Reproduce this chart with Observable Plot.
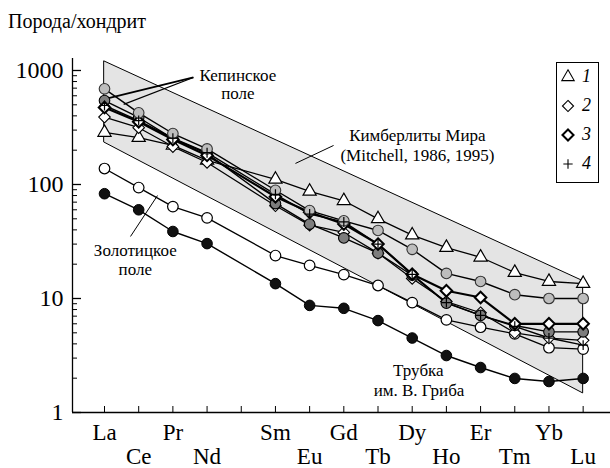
<!DOCTYPE html>
<html><head><meta charset="utf-8">
<script src="https://cdn.jsdelivr.net/npm/d3@7"></script>
<script src="https://cdn.jsdelivr.net/npm/@observablehq/plot@0.6"></script>
<style>
body{margin:0;background:#fff;font-family:"Liberation Serif","Times New Roman",Times,"DejaVu Serif",serif;color:#000;}
#wrap{position:relative;width:610px;height:468px;overflow:hidden;}
#title{height:40px;line-height:42px;font-size:20px;padding-left:8px;}
#legend{position:absolute;left:556px;top:62px;width:41px;height:119px;border:1px solid #000;background:#fff;}
#legend .row{position:absolute;left:0;width:41px;height:20px;}
#legend .row svg{position:absolute;left:2px;top:0;}
#legend .row span{position:absolute;left:25px;top:-1px;font-style:italic;font-size:18px;line-height:20px;}
svg text{font-family:"Liberation Serif","Times New Roman",Times,"DejaVu Serif",serif;}
</style></head><body>
<div id="wrap">
<div id="title">Порода/хондрит</div>
<div id="chart"></div>
<div id="legend"></div>
</div>
<script>
// Element order (Pm position 4 is omitted in the data)
const elements = ["La","Ce","Pr","Nd","Sm","Eu","Gd","Tb","Dy","Ho","Er","Tm","Yb","Lu"];
const positions = [0,1,2,3,5,6,7,8,9,10,11,12,13,14];
const row1 = ["La","Pr","Sm","Gd","Dy","Er","Yb"];
const row2 = ["Ce","Nd","Eu","Tb","Ho","Tm","Lu"];

// series values (rock / chondrite)
const s1Triangle   = [286,258,220,163,111,87,72,50,36,28,23,16.9,14.1,13.5];
const s2Diamond    = [390,315,215,156,65,44,38,25,15,9.4,7.5,5.0,4.5,4.3];
const s3BoldDiam   = [473,355,248,180,78,57,45,30,16.3,11.7,10.2,6.0,6.0,6.0];
const s4Plus       = [493,364,255,190,82,55,47,30,16.3,9.2,7.1,5.7,4.5,3.9];
const kepinoLight  = [690,425,280,205,89,59,48,39.5,27,16.6,14.1,10.8,10,10];
const kepinoDark   = [545,387,253,187,68,45,34,25,16,9.1,7.1,5.8,5.1,5.1];
const zolotitsa    = [138,94,64,51,23.8,19.5,16.2,13,9.2,6.5,5.6,4.9,3.7,3.6];
const gribaPipe    = [83,60,38.7,30.3,13.5,8.7,8.2,6.4,4.5,3.16,2.48,1.99,1.87,1.99];

// kimberlite field (Mitchell): La and Lu bounds
const fieldPos   = [0,14];
const fieldLow   = [233,1.47];
const fieldHigh  = [1200,14.2];

// annotations (x = element position, y = value)
const annText = [
  {x:3.9, y:904, t:"Кепинское"},
  {x:3.9, y:629, t:"поле"},
  {x:9.15, y:269, t:"Кимберлиты Мира"},
  {x:9.15, y:180, t:"(Mitchell, 1986, 1995)"},
  {x:0.9, y:26.4, t:"Золотицкое"},
  {x:0.9, y:18, t:"поле"},
  {x:9.18, y:2.34, t:"Трубка"},
  {x:9.2, y:1.56, t:"им. В. Гриба"}
];
const annLines = [
  {x1:2.6, y1:868, x2:0.09, y2:568, w:1.8},
  {x1:2.6, y1:868, x2:0.56, y2:504, w:1.2},
  {x1:6.7, y1:220, x2:5.585, y2:153, w:1},
  {x1:0.76, y1:35, x2:1.55, y2:80, w:1}
];

const xDomain = [-0.936, 14.8];
const yDomain = [1, 1274];
const majorY = [1,10,100,1000];
const minorY = [];
for (const d of [1,10,100]) for (let k=2;k<=9;k++) minorY.push(d*k);

const mk = (vals) => positions.map((p,i)=>({x:p, v:vals[i]}));
const field = fieldPos.map((p,i)=>({x:p, lo:fieldLow[i], hi:fieldHigh[i]}));
const labelOf = new Map(positions.map((p,i)=>[p, elements[i]]));
const posOf = new Map(elements.map((e,i)=>[e, positions[i]]));

const serif = "'Liberation Serif','Times New Roman',Times,'DejaVu Serif',serif";
const lineOpts = (w) => ({x:"x", y:"v", stroke:"#000", strokeWidth:w});

const plot = Plot.plot({
  width:610, height:428,
  marginLeft:72, marginRight:0, marginTop:18, marginBottom:56,
  x:{type:"linear", domain:xDomain},
  y:{type:"log", domain:yDomain},
  style:{fontFamily:serif, fontSize:"22px", color:"#000", background:"#fff", overflow:"visible"},
  marks:[
    Plot.areaY(field, {x:"x", y1:"lo", y2:"hi", fill:"#e4e4e4", stroke:"#000", strokeWidth:1}),
    Plot.ruleX([xDomain[0]], {stroke:"#000", strokeWidth:1.3}),
    Plot.ruleY([yDomain[0]], {stroke:"#000", strokeWidth:1.3}),
    Plot.axisY({ticks:majorY, tickSize:-9, tickPadding:18, tickFormat:d=>String(d), fontSize:24, strokeWidth:1.3}),
    Plot.axisY({ticks:minorY, tickSize:-5, tickFormat:()=>"", strokeWidth:1}),
    Plot.axisX({ticks:d3.range(0,15), tickSize:-6, tickFormat:()=>"", strokeWidth:1}),
    Plot.axisX({ticks:row1.map(e=>posOf.get(e)), tickSize:0, tickPadding:11, tickFormat:p=>labelOf.get(p), fontSize:23}),
    Plot.axisX({ticks:row2.map(e=>posOf.get(e)), tickSize:0, tickPadding:35, tickFormat:p=>labelOf.get(p), fontSize:23}),

    Plot.link(annLines, {x1:"x1", y1:"y1", x2:"x2", y2:"y2", stroke:"#000", strokeWidth:"w"}),
    Plot.text(annText, {x:"x", y:"y", text:"t", fontSize:17, fill:"#000"}),

    Plot.line(mk(gribaPipe), lineOpts(1.4)),
    Plot.line(mk(zolotitsa), lineOpts(1.3)),
    Plot.line(mk(s1Triangle), lineOpts(1.3)),
    Plot.line(mk(kepinoLight), lineOpts(1.4)),
    Plot.line(mk(kepinoDark), lineOpts(1.4)),
    Plot.line(mk(s2Diamond), lineOpts(1.2)),
    Plot.line(mk(s4Plus), lineOpts(1.4)),
    Plot.line(mk(s3BoldDiam), lineOpts(2.2)),

    Plot.dot(mk(gribaPipe), {x:"x", y:"v", r:5.3, fill:"#111", stroke:"#000", strokeWidth:1}),
    Plot.dot(mk(zolotitsa), {x:"x", y:"v", r:5.3, fill:"#fff", stroke:"#000", strokeWidth:1.2}),
    Plot.dot(mk(s1Triangle), {x:"x", y:"v", symbol:"triangle", r:4.9, fill:"#fff", stroke:"#000", strokeWidth:1.2}),
    Plot.dot(mk(s2Diamond), {x:"x", y:"v", symbol:"diamond2", r:5.2, fill:"#fff", stroke:"#000", strokeWidth:1.1}),
    Plot.dot(mk(kepinoDark), {x:"x", y:"v", r:5.3, fill:"#7d7d7d", stroke:"#000", strokeWidth:1.1}),
    Plot.dot(mk(s3BoldDiam), {x:"x", y:"v", symbol:"diamond2", r:5.2, fill:"#fff", stroke:"#000", strokeWidth:2}),
    Plot.dot(mk(kepinoLight), {x:"x", y:"v", r:5.3, fill:"#bdbdbd", stroke:"#333", strokeWidth:1.1}),
    Plot.dot(mk(s4Plus), {x:"x", y:"v", symbol:"plus", r:3.3, stroke:"#000", strokeWidth:1.2})
  ]
});
document.getElementById("chart").appendChild(plot);

// legend
const legendItems = [
  {sym:"triangle", label:"1", sw:1.1, r:4.6},
  {sym:"diamond2", label:"2", sw:1.1, r:5},
  {sym:"diamond2", label:"3", sw:2, r:5},
  {sym:"plus", label:"4", sw:1.1, r:3.1}
];
const symMap = {triangle:d3.symbolTriangle, diamond2:d3.symbolDiamond2, plus:d3.symbolPlus};
const lg = document.getElementById("legend");
legendItems.forEach((it,i)=>{
  const row = document.createElement("div");
  row.className="row"; row.style.top = (4 + i*29) + "px";
  const path = d3.symbol(symMap[it.sym], Math.PI*it.r*it.r)();
  row.innerHTML = `<svg width="20" height="20"><path transform="translate(9,10)" d="${path}" fill="${it.sym==='plus'?'none':'#fff'}" stroke="#000" stroke-width="${it.sw}"/></svg><span>${it.label}</span>`;
  lg.appendChild(row);
});
</script>
</body></html>
